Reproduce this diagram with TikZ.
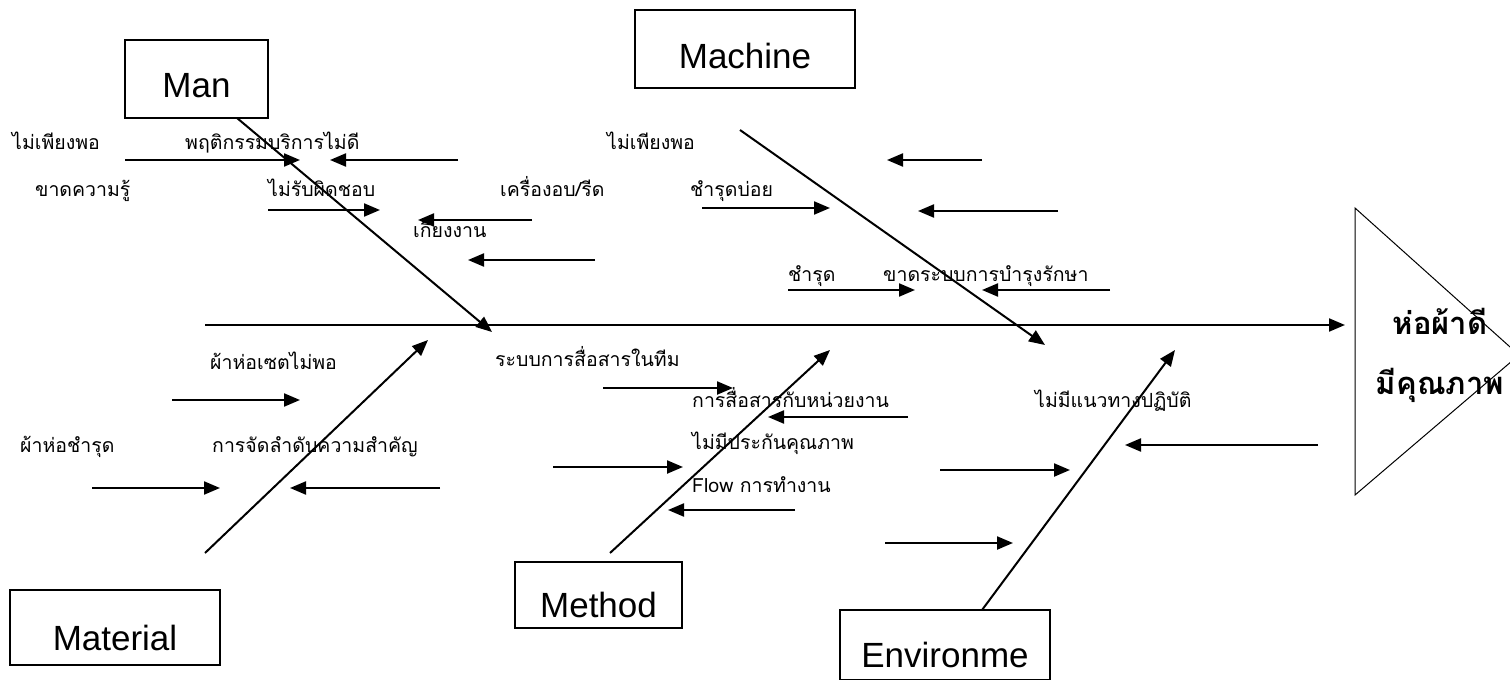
\documentclass[tikz,border=0pt]{standalone}
\usepackage{fontspec}
\setmainfont{Liberation Sans}
\newfontfamily\thai[Script=Thai]{Loma}
\usetikzlibrary{arrows.meta}
\begin{document}
\begin{tikzpicture}[x=1pt,y=-1pt,
  bone/.style={line width=2pt,-{Triangle[length=16pt,width=13pt]}},
  sarr/.style={line width=2.2pt,-{Triangle[length=16pt,width=13pt]}},
  box/.style={draw,line width=1.3pt,inner sep=0pt},
  boxtxt/.style={font=\fontsize{35}{40}\selectfont},
  lbl/.style={anchor=base west,inner sep=0pt,font=\thai\fontsize{19.5}{22}\selectfont},
  eff/.style={align=center,inner sep=0pt,font=\thai\bfseries\fontsize{31}{60}\selectfont}]
\useasboundingbox (0,0) rectangle (1510,680);
% category boxes
\node[box,minimum width=143pt,minimum height=78pt,label={[boxtxt,yshift=-7pt]center:Man}] (man) at (196.5,79) {};
\node[box,minimum width=220pt,minimum height=78pt,label={[boxtxt,yshift=-7pt]center:Machine}] (machine) at (745,49) {};
\node[box,minimum width=210pt,minimum height=75pt,label={[boxtxt,yshift=-10pt]center:Material}] (material) at (115,627.5) {};
\node[box,minimum width=167pt,minimum height=66pt,label={[boxtxt,yshift=-10pt]center:Method}] (method) at (598.5,595) {};
\node[box,minimum width=210pt,minimum height=70pt,label={[boxtxt,yshift=-10pt]center:Environme}] (env) at (945,645) {};
% effect triangle
\coordinate (t1) at (1355,208);
\coordinate (t2) at (1519,355);
\coordinate (t3) at (1355,495);
\draw[line width=1pt] (t1) -- (t2) -- (t3) -- cycle;
\node[eff] (effect) at (1440,355) {ห่อผ้าดี\\มีคุณภาพ};
% spine
\coordinate (spS) at (205,325);
\coordinate (spE) at (1345,325);
\draw[bone] (spS) -- (spE);
% bones
\coordinate (manS) at (237,118);   \coordinate (manE) at (492,332);
\coordinate (macS) at (740,130);   \coordinate (macE) at (1045,345);
\coordinate (matS) at (205,553);   \coordinate (matE) at (428,340);
\coordinate (metS) at (610,553);   \coordinate (metE) at (830,350);
\coordinate (envS) at (982,610);   \coordinate (envE) at (1175,350);
\draw[bone] (manS) -- (manE);
\draw[bone] (macS) -- (macE);
\draw[bone] (matS) -- (matE);
\draw[bone] (metS) -- (metE);
\draw[bone] (envS) -- (envE);
% small arrows (start, end)
\foreach \n/\xa/\ya/\xb/\yb in {
  a1/125/160/300/160, a2/458/160/330/160, a3/268/210/380/210, a4/532/220/418/220, a5/595/260/468/260,
  a6/982/160/887/160, a7/702/208/830/208, a8/1058/211/918/211, a9/788/290/915/290, a10/1110/290/982/290,
  a11/172/400/300/400, a12/92/488/220/488, a13/440/488/290/488,
  a14/603/388/733/388, a15/908/417/768/417, a16/553/467/683/467, a17/795/510/668/510,
  a18/940/470/1070/470, a19/885/543/1013/543, a20/1318/445/1125/445}{
  \coordinate (\n s) at (\xa,\ya);
  \coordinate (\n e) at (\xb,\yb);
  \draw[sarr] (\n s) -- (\n e);
}
% labels
\node[lbl] (l1) at (12,149) {ไม่เพียงพอ};
\node[lbl] (l2) at (185,149) {พฤติกรรมบริการไม่ดี};
\node[lbl] (l3) at (35,196) {ขาดความรู้};
\node[lbl] (l4) at (268,196) {ไม่รับผิดชอบ};
\node[lbl] (l5) at (500,196) {เครื่องอบ/รีด};
\node[lbl] (l6) at (413,237) {เกี่ยงงาน};
\node[lbl] (l7) at (607,149) {ไม่เพียงพอ};
\node[lbl] (l8) at (690,196) {ชำรุดบ่อย};
\node[lbl] (l9) at (788,281) {ชำรุด};
\node[lbl] (l10) at (883,281) {ขาดระบบการบำรุงรักษา};
\node[lbl] (l11) at (210,369) {ผ้าห่อเซตไม่พอ};
\node[lbl] (l12) at (495,366) {ระบบการสื่อสารในทีม};
\node[lbl] (l13) at (692,407) {การสื่อสารกับหน่วยงาน};
\node[lbl] (l14) at (1035,407) {ไม่มีแนวทางปฏิบัติ};
\node[lbl] (l15) at (20,452) {ผ้าห่อชำรุด};
\node[lbl] (l16) at (212,452) {การจัดลำดับความสำคัญ};
\node[lbl] (l17) at (692,449) {ไม่มีประกันคุณภาพ};
\node[lbl] (l18) at (692,492) {Flow การทำงาน};
\end{tikzpicture}
\end{document}
